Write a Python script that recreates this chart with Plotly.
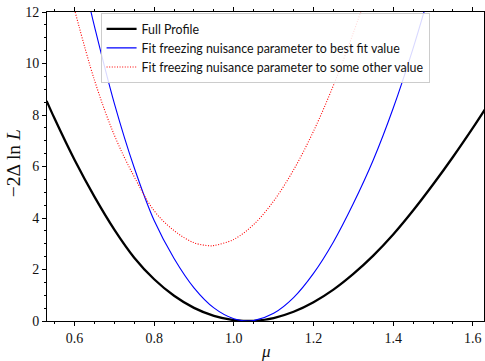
import plotly.graph_objects as go

# ---- data ----
mu_full = [0.53, 0.55, 0.60, 0.65, 0.70, 0.75, 0.80, 0.85, 0.90, 0.95, 1.00, 1.035,
           1.05, 1.10, 1.15, 1.20, 1.25, 1.30, 1.35, 1.40, 1.45, 1.50, 1.55, 1.60, 1.63]
nll_full = [8.55, 7.86, 6.26, 4.83, 3.55, 2.46, 1.62, 0.98, 0.51, 0.20, 0.034, 0.0,
            0.006, 0.116, 0.36, 0.73, 1.22, 1.83, 2.54, 3.36, 4.29, 5.30, 6.37, 7.50, 8.21]

mu_best = [0.64, 0.65, 0.70, 0.75, 0.80, 0.85, 0.90, 0.95, 1.00, 1.035, 1.05, 1.10,
           1.15, 1.20, 1.25, 1.30, 1.35, 1.40, 1.45, 1.48]
nll_best = [12.1, 11.45, 8.45, 5.95, 3.90, 2.43, 1.29, 0.51, 0.087, 0.0, 0.016, 0.30,
            0.91, 1.85, 3.07, 4.56, 6.25, 8.26, 10.59, 12.14]

mu_other = [0.60, 0.65, 0.70, 0.75, 0.80, 0.85, 0.90, 0.94, 0.95, 1.00, 1.05, 1.10,
            1.15, 1.20, 1.25, 1.30, 1.32]
nll_other = [12.1, 9.36, 7.22, 5.60, 4.28, 3.51, 3.04, 2.92, 2.93, 3.17, 3.75, 4.66,
             5.87, 7.37, 9.15, 11.19, 12.08]

x_ticks = [0.6, 0.8, 1.0, 1.2, 1.4, 1.6]
x_ticklabels = ["0.6", "0.8", "1.0", "1.2", "1.4", "1.6"]
y_ticks = [0, 2, 4, 6, 8, 10, 12]
y_ticklabels = ["0", "2", "4", "6", "8", "10", "12"]

names = ["Full Profile",
         "Fit freezing nuisance parameter to best fit value",
         "Fit freezing nuisance parameter to some other value"]

fig = go.Figure()
fig.add_trace(go.Scatter(x=mu_full, y=nll_full, mode="lines", name=names[0],
                         line=dict(color="black", width=2.3, shape="spline")))
fig.add_trace(go.Scatter(x=mu_best, y=nll_best, mode="lines", name=names[1],
                         line=dict(color="blue", width=1.1, shape="spline")))
fig.add_trace(go.Scatter(x=mu_other, y=nll_other, mode="lines", name=names[2],
                         line=dict(color="red", width=1.1, shape="spline", dash="1px,1.6px")))

serif = "Liberation Serif"
tickcol = "black"
axis_common = dict(showline=True, linecolor="black", linewidth=1, mirror="allticks",
                   ticks="outside", ticklen=4, tickwidth=1, tickcolor=tickcol,
                   showgrid=False, zeroline=False, automargin=False,
                   tickfont=dict(family=serif, size=14, color="#111"))

fig.update_xaxes(range=[0.531, 1.628], tickmode="array",
                 tickvals=x_ticks, ticktext=x_ticklabels,
                 minor=dict(dtick=0.05, tick0=0.0, ticks="outside", ticklen=2.4,
                            tickwidth=0.8, tickcolor=tickcol, showgrid=False),
                 **axis_common)
fig.update_yaxes(range=[0, 12], tickmode="array",
                 tickvals=y_ticks, ticktext=y_ticklabels,
                 minor=dict(dtick=0.5, tick0=0.0, ticks="outside", ticklen=2.4,
                            tickwidth=0.8, tickcolor=tickcol, showgrid=False),
                 **axis_common)

fig.add_annotation(text="<i>μ</i>", xref="paper", yref="paper", x=0.5, y=-0.1003,
                   xanchor="center", yanchor="middle", showarrow=False,
                   font=dict(family=serif, size=17, color="#111"))
fig.add_annotation(text="−2Δ ln <i>L</i>", xref="paper", yref="paper", x=-0.076, y=0.51,
                   xanchor="center", yanchor="middle", showarrow=False, textangle=-90,
                   font=dict(family=serif, size=19.5, color="#111"))

fig.update_layout(
    width=485, height=361,
    margin=dict(l=47, r=1, t=12, b=40),
    plot_bgcolor="white", paper_bgcolor="white",
    legend=dict(x=0.1226, y=0.996, xanchor="left", yanchor="top",
                bgcolor="rgba(255,255,255,0.85)", bordercolor="#cccccc", borderwidth=1,
                font=dict(family="Lato, DejaVu Sans, sans-serif", size=12.4, color="#111"),
                itemwidth=30, tracegroupgap=0),
)

fig.write_html("out.html")
